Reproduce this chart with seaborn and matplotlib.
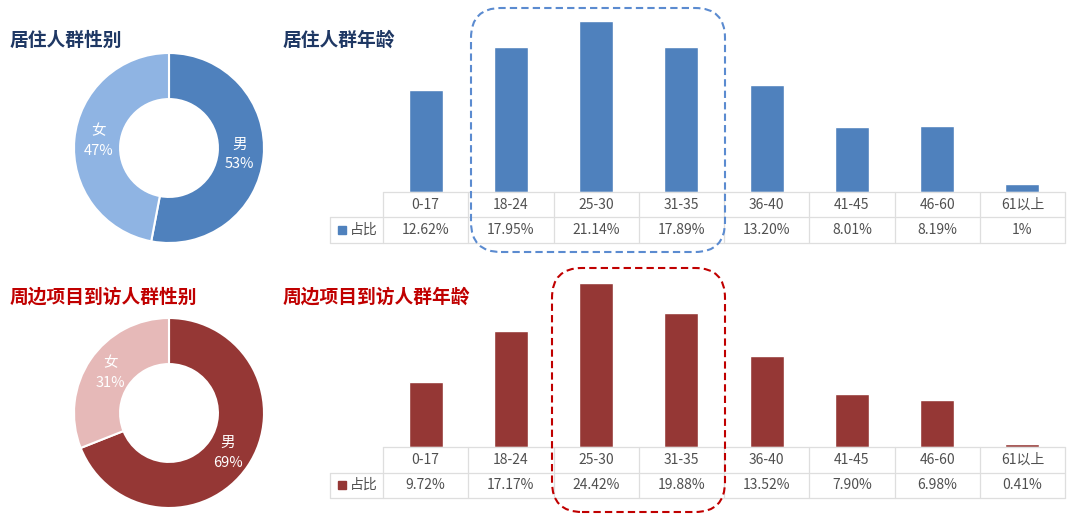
import matplotlib
matplotlib.use("Agg")
import matplotlib.pyplot as plt
import seaborn as sns
import pandas as pd
from matplotlib.patches import FancyBboxPatch, Rectangle
from matplotlib.transforms import IdentityTransform

# ---------------- data ----------------
age_groups = ["0-17", "18-24", "25-30", "31-35", "36-40", "41-45", "46-60", "61以上"]
resident_age = [12.62, 17.95, 21.14, 17.89, 13.20, 8.01, 8.19, 1.0]
resident_age_labels = ["12.62%", "17.95%", "21.14%", "17.89%", "13.20%", "8.01%", "8.19%", "1%"]
visitor_age = [9.72, 17.17, 24.42, 19.88, 13.52, 7.90, 6.98, 0.41]
visitor_age_labels = ["9.72%", "17.17%", "24.42%", "19.88%", "13.52%", "7.90%", "6.98%", "0.41%"]
genders = ["男", "女"]
resident_gender = [53, 47]
visitor_gender = [69, 31]
series_name = "占比"
titles = ["居住人群性别", "居住人群年龄", "周边项目到访人群性别", "周边项目到访人群年龄"]

# ---------------- style ----------------
sns.set_theme(style="white")
FAM = ["Noto Sans CJK SC", "DejaVu Sans"]
plt.rcParams["font.family"] = FAM

W, H = 1080, 522
fig = plt.figure(figsize=(W / 100, H / 100), dpi=100)
fig.patch.set_facecolor("white")


def rect(x0, y0, x1, y1):
    """pixel box (top-left origin) -> figure fraction rect"""
    return [x0 / W, 1 - y1 / H, (x1 - x0) / W, (y1 - y0) / H]


def donut(cx, cy, r, values, colors):
    ax = fig.add_axes(rect(cx - r, cy - r, cx + r, cy + r))
    labels = [f"{g}\n{v}%" for g, v in zip(genders, values)]
    wedges, texts = ax.pie(values, colors=colors, startangle=90, counterclock=False,
                           labels=labels, labeldistance=0.745,
                           wedgeprops=dict(width=0.485, edgecolor="white", linewidth=1.5))
    for t in texts:
        t.set_color("white")
        t.set_fontsize(10.5)
        t.set_ha("center")
        t.set_va("center")
        t.set_linespacing(1.5)
    ax.set_xlim(-1.0, 1.0)
    ax.set_ylim(-1.0, 1.0)
    ax.set_aspect("equal")
    ax.axis("off")


def bars_with_table(top_px, base_px, ymax, values, labels, color):
    x0, x1 = 383, 1065
    ax = fig.add_axes(rect(x0, top_px, x1, base_px))
    df = pd.DataFrame({"age": age_groups, "v": values})
    sns.barplot(data=df, x="age", y="v", color=color, saturation=1, width=0.4, ax=ax)
    ax.set_xlim(-0.5, len(age_groups) - 0.5)
    ax.set_ylim(0, ymax)
    ax.axis("off")

    # data table below
    leg_w = (383 - 330) / ((x1 - x0) / len(age_groups))
    tab = fig.add_axes(rect(330, base_px, x1, base_px + 51))
    n = len(age_groups)
    tab.set_xlim(-0.5 - leg_w, n - 0.5)
    tab.set_ylim(0, 2)
    tab.axis("off")
    lc = "#dedede"
    lw = 0.9
    tab.plot([-0.5, n - 0.5], [2, 2], color=lc, lw=lw, clip_on=False)
    tab.plot([-0.5 - leg_w, n - 0.5], [1, 1], color=lc, lw=lw, clip_on=False)
    tab.plot([-0.5 - leg_w, n - 0.5], [0, 0], color=lc, lw=lw, clip_on=False)
    tab.plot([-0.5 - leg_w, -0.5 - leg_w], [0, 1], color=lc, lw=lw, clip_on=False)
    for i in range(n + 1):
        tab.plot([i - 0.5, i - 0.5], [0, 2], color=lc, lw=lw, clip_on=False)
    tc = "#505050"
    for i, (cat, lab) in enumerate(zip(age_groups, labels)):
        tab.text(i, 1.5, cat, ha="center", va="center", fontsize=10, color=tc)
        tab.text(i, 0.5, lab, ha="center", va="center", fontsize=10, color=tc)
    # legend key
    tab.add_patch(Rectangle((-0.5 - leg_w + 0.09, 0.36), 0.1, 0.3, color=color, clip_on=False))
    tab.text(-0.5 - leg_w + 0.23, 0.5, series_name, ha="left", va="center",
             fontsize=10, color=tc)


def dashed_box(x0, y0, x1, y1, color):
    p = FancyBboxPatch((x0, H - y1), x1 - x0, y1 - y0,
                       boxstyle="round,pad=0,rounding_size=30",
                       transform=IdentityTransform(), fill=False,
                       edgecolor=color, linewidth=1.5, linestyle=(0, (3.5, 2)))
    fig.add_artist(p)


BLUE = "#4f81bd"
BLUE_L = "#8fb4e3"
RED = "#953735"
RED_L = "#e6b9b8"
NAVY = "#1f3864"
TRED = "#c00000"

# titles
fig.text(10 / W, 1 - 40 / H, titles[0], fontsize=13.5, fontweight="bold", color=NAVY, va="center")
fig.text(283 / W, 1 - 40 / H, titles[1], fontsize=13.5, fontweight="bold", color=NAVY, va="center")
fig.text(10 / W, 1 - 297 / H, titles[2], fontsize=13.5, fontweight="bold", color=TRED, va="center")
fig.text(283 / W, 1 - 297 / H, titles[3], fontsize=13.5, fontweight="bold", color=TRED, va="center")

# donuts
donut(169, 148, 95, resident_gender, [BLUE, BLUE_L])
donut(169, 413, 95, visitor_gender, [RED, RED_L])

# bars + tables
bars_with_table(10, 192, 22.5, resident_age, resident_age_labels, BLUE)
bars_with_table(272, 447, 26.0, visitor_age, visitor_age_labels, RED)

# highlight boxes
dashed_box(471, 8, 725, 252, "#5b8bd0")
dashed_box(552, 268, 725, 512, "#c00000")

fig.savefig("out.png", dpi=100, facecolor="white")
